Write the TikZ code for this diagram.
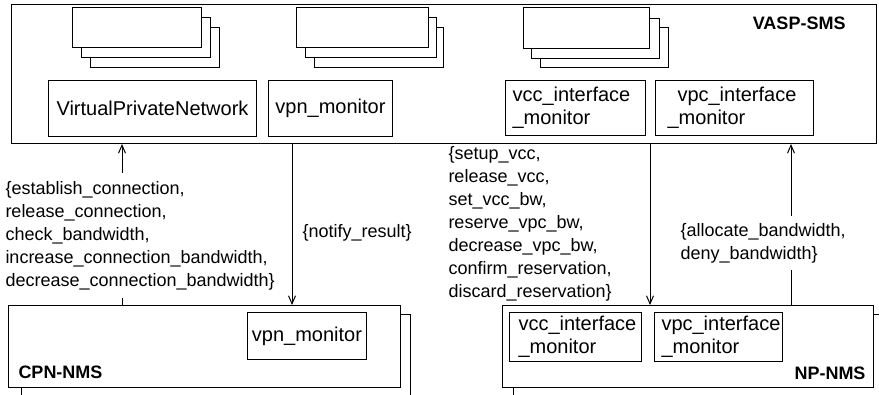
\documentclass[tikz,border=0pt]{standalone}
\usepackage{fontspec}
\setmainfont{Liberation Sans}
\usetikzlibrary{arrows.meta}
\begin{document}
\begin{tikzpicture}[x=0.5pt,y=-0.5pt,line width=0.5pt,
  box/.style={draw,fill=white,inner sep=0pt,font=\fontsize{10}{11.5}\selectfont},
  lbl/.style={font=\fontsize{9}{11.5}\selectfont,align=left,inner sep=0pt},
  sysname/.style={font=\fontsize{9}{11}\selectfont\bfseries,inner sep=0pt},
  frame/.style={draw,fill=white,inner sep=0pt,anchor=north west},
  arr/.style={-{Straight Barb[length=4pt,width=3.5pt]}},
  stackbox/.style={draw,fill=white}]

\useasboundingbox (0,0) rectangle (879,395);
\clip (0,0) rectangle (879,395);

% ---------- VASP-SMS ----------
\node[frame,minimum width=432.5pt,minimum height=69.5pt] (vasp) at (11,4) {};
\node[sysname,anchor=east] (vaspname) at (846,23) {VASP-SMS};

% stacked object boxes (back to front)
\draw[stackbox] (90,28) rectangle (219,68);
\draw[stackbox] (81,18) rectangle (210,58);
\draw[stackbox] (72,8) rectangle (201,48);

\draw[stackbox] (314,28) rectangle (443,68);
\draw[stackbox] (305,18) rectangle (436,58);
\draw[stackbox] (296,8) rectangle (428,48);

\draw[stackbox] (540,28) rectangle (668,68);
\draw[stackbox] (531,19) rectangle (659,59);
\draw[stackbox] (523,8) rectangle (649,49);

% inner objects
\node[box,anchor=north west,minimum width=104pt,minimum height=28pt] (vpn) at (48,80) {VirtualPrivateNetwork};
\node[box,anchor=north west,minimum width=62pt,minimum height=28pt] (vpnmon) at (268,80) {vpn\_monitor};
\node[box,anchor=north west,minimum height=27.5pt,align=left,inner xsep=3.5pt,text width=63pt] (vccmon) at (505,80) {vcc\_interface\\\_monitor};
\node[box,anchor=north west,minimum height=27.5pt,align=left,inner xsep=6pt,text width=67pt] (vpcmon) at (655,80) {\hspace*{5pt}vpc\_interface\\\_monitor};

% ---------- CPN-NMS ----------
\draw[stackbox] (21,315) rectangle (410,420);
\node[frame,minimum width=196pt,minimum height=41pt] (cpn) at (8,305) {};
\node[box,anchor=north west,minimum width=59.5pt,minimum height=23.5pt] (cpnmon) at (247,312) {vpn\_monitor};
\node[sysname,anchor=west] (cpnname) at (18,372) {CPN-NMS};

% ---------- NP-NMS ----------
\draw[stackbox] (513,315) rectangle (900,420);
\node[frame,minimum width=185.5pt,minimum height=41pt] (np) at (502,305) {};
\node[box,anchor=north west,minimum height=24.5pt,align=left,inner xsep=4.5pt,text width=57pt] (npvcc) at (509,312) {vcc\_interface\\\_monitor};
\node[box,anchor=north west,minimum height=24.5pt,align=left,inner xsep=3.5pt,text width=57pt] (npvpc) at (654,312) {vpc\_interface\\\_monitor};
\node[sysname,anchor=east] (npname) at (866,373) {NP-NMS};

% ---------- interactions ----------
\coordinate (xL) at (122,0);
\coordinate (xN) at (292,0);
\coordinate (xS) at (650,0);
\coordinate (xA) at (791,0);

\draw[arr] (cpn.north -| xL) -- (vasp.south -| xL);
\draw[arr] (vasp.south -| xN) -- (cpn.north -| xN);
\draw[arr] (vasp.south -| xS) -- (np.north -| xS);
\draw[arr] (np.north -| xA) -- (vasp.south -| xA);

\node[lbl,anchor=north west,fill=white,inner ysep=4pt] (callsL) at (5,173)
  {\{establish\_connection,\\release\_connection,\\check\_bandwidth,\\increase\_connection\_bandwidth,\\decrease\_connection\_bandwidth\}};
\node[lbl,anchor=west] (notify) at (302,233) {\{notify\_result\}};
\node[lbl,anchor=north west] (callsS) at (448,146)
  {\{setup\_vcc,\\release\_vcc,\\set\_vcc\_bw,\\reserve\_vpc\_bw,\\decrease\_vpc\_bw,\\confirm\_reservation,\\discard\_reservation\}};
\node[lbl,anchor=north west,fill=white,inner ysep=3.5pt] (callsA) at (680,216)
  {\{allocate\_bandwidth,\\deny\_bandwidth\}};
\end{tikzpicture}
\end{document}
